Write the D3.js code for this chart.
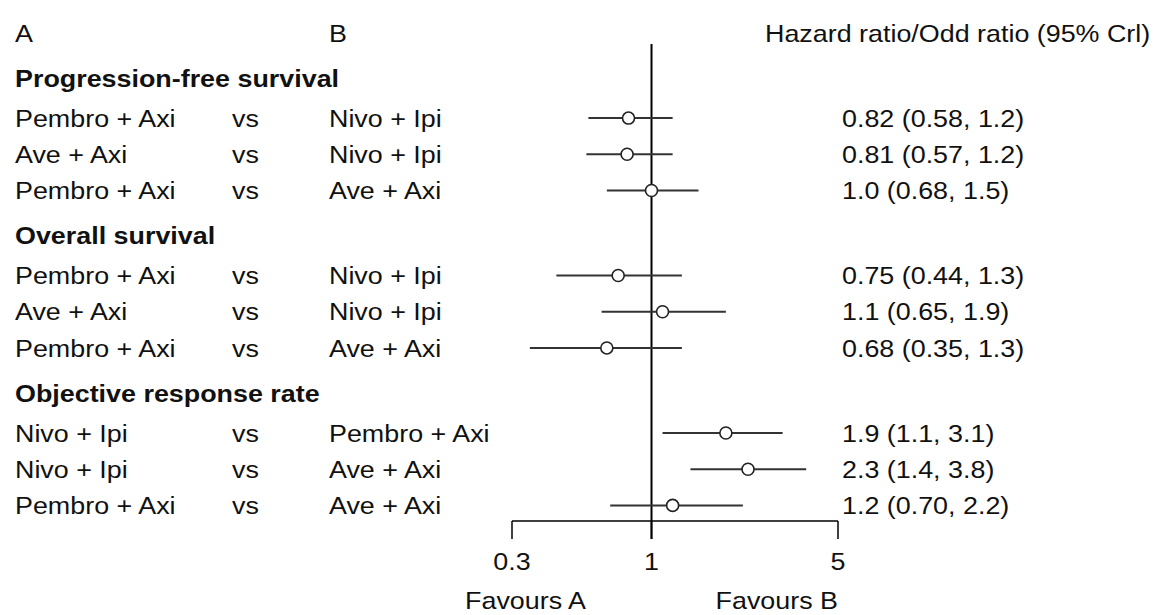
<!DOCTYPE html>
<html>
<head>
<meta charset="utf-8">
<script src="https://cdn.jsdelivr.net/npm/d3@7"></script>
<style>
  body { margin: 0; background: #fff; }
  text { font-family: "Liberation Sans", Arial, sans-serif; fill: #111; }
</style>
</head>
<body>
<svg width="1155" height="615"></svg>
<script>
// outcome groups and comparisons
let groups = ["Progression-free survival", "Overall survival", "Objective response rate"];
let groupOf = [0, 0, 0, 1, 1, 1, 2, 2, 2];
let treatA = ["Pembro + Axi", "Ave + Axi", "Pembro + Axi",
              "Pembro + Axi", "Ave + Axi", "Pembro + Axi",
              "Nivo + Ipi", "Nivo + Ipi", "Pembro + Axi"];
let treatB = ["Nivo + Ipi", "Nivo + Ipi", "Ave + Axi",
              "Nivo + Ipi", "Nivo + Ipi", "Ave + Axi",
              "Pembro + Axi", "Ave + Axi", "Ave + Axi"];
let est   = [0.82, 0.81, 1.0, 0.75, 1.1, 0.68, 1.9, 2.3, 1.2];
let lower = [0.58, 0.57, 0.68, 0.44, 0.65, 0.35, 1.1, 1.4, 0.70];
let upper = [1.2, 1.2, 1.5, 1.3, 1.9, 1.3, 3.1, 3.8, 2.2];
let estLabels = ["0.82 (0.58, 1.2)", "0.81 (0.57, 1.2)", "1.0 (0.68, 1.5)",
                 "0.75 (0.44, 1.3)", "1.1 (0.65, 1.9)", "0.68 (0.35, 1.3)",
                 "1.9 (1.1, 3.1)", "2.3 (1.4, 3.8)", "1.2 (0.70, 2.2)"];
let tickValues = [0.3, 1, 5];
let tickLabels = ["0.3", "1", "5"];

let svg = d3.select("svg");
let fs = 24, sx = 1.12;

// build the rows list: heading line then its comparisons
let rows = [];
let slot = 0;
groups.forEach(function (g, gi) {
  slot += 1.25;
  rows.push({ type: "head", name: g, slot: slot });
  slot += 0.1;
  groupOf.forEach(function (v, i) {
    if (v !== gi) return;
    slot += 1;
    rows.push({ type: "row", i: i, slot: slot });
  });
});

let y = d3.scaleLinear().domain([0, 1]).range([33, 69.2]);
let x = d3.scaleLog().domain([0.3, 5]).range([512, 838]);

function addText(sel, xx, yy, str, anchor, bold) {
  return sel.append("text")
    .attr("transform", "translate(" + xx + "," + yy + ") scale(" + sx + ",1)")
    .attr("dy", "0.36em")
    .attr("font-size", fs)
    .attr("font-weight", bold ? "bold" : null)
    .attr("text-anchor", anchor || "start")
    .text(str);
}

// column headers
addText(svg, 15, y(0), "A");
addText(svg, 329, y(0), "B");
addText(svg, 765, y(0), "Hazard ratio/Odd ratio (95% Crl)");

let axisY = 521, tickLen = 18;

// reference line at 1
svg.append("line")
  .attr("x1", x(1)).attr("x2", x(1))
  .attr("y1", 44).attr("y2", axisY + tickLen)
  .attr("stroke", "#000").attr("stroke-width", 2);

rows.forEach(function (r) {
  let yy = y(r.slot);
  if (r.type === "head") {
    addText(svg, 15, yy, r.name, "start", true);
    return;
  }
  let i = r.i;
  addText(svg, 15, yy, treatA[i]);
  addText(svg, 232, yy, "vs");
  addText(svg, 329, yy, treatB[i]);
  addText(svg, 842, yy, estLabels[i]);
  svg.append("line")
    .attr("x1", x(lower[i])).attr("x2", x(upper[i]))
    .attr("y1", yy).attr("y2", yy)
    .attr("stroke", "#333").attr("stroke-width", 2);
  svg.append("circle")
    .attr("cx", x(est[i])).attr("cy", yy).attr("r", 6)
    .attr("fill", "#fff").attr("stroke", "#222").attr("stroke-width", 1.6);
});

// bottom axis
let axis = svg.append("g");
axis.append("line")
  .attr("x1", x(0.3)).attr("x2", x(5))
  .attr("y1", axisY).attr("y2", axisY)
  .attr("stroke", "#000").attr("stroke-width", 1.5);
tickValues.forEach(function (t, k) {
  axis.append("line")
    .attr("x1", x(t)).attr("x2", x(t))
    .attr("y1", axisY).attr("y2", axisY + tickLen)
    .attr("stroke", "#000").attr("stroke-width", 1.5);
  addText(axis, x(t), 561, tickLabels[k], "middle");
});

addText(svg, x(1) - 126, 600, "Favours A", "middle");
addText(svg, x(5), 600, "Favours B", "end");
</script>
</body>
</html>
